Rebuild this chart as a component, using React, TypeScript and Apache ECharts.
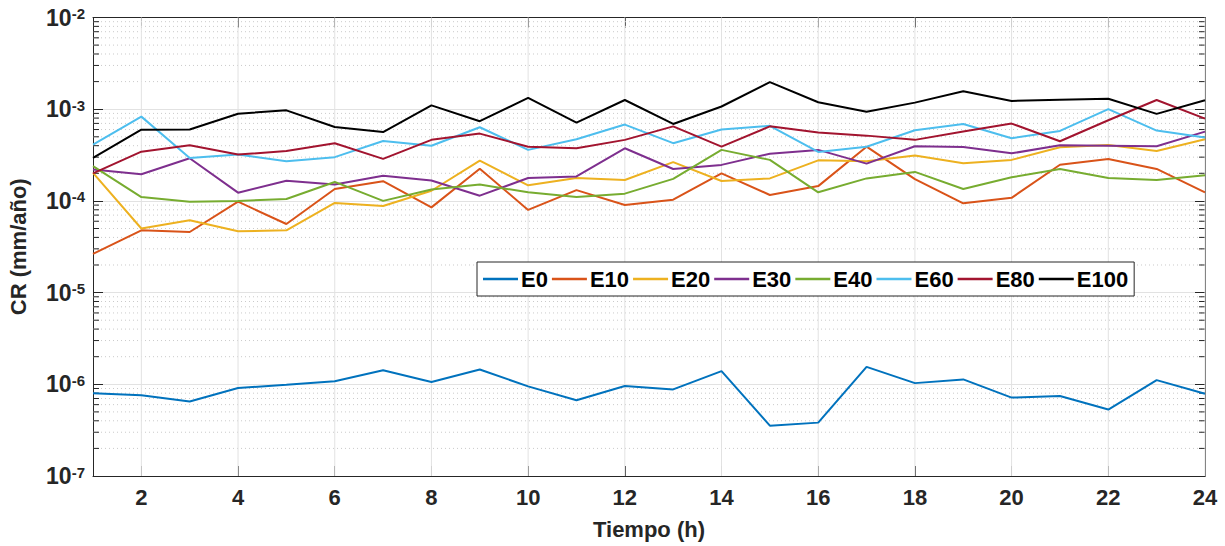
import React, { useEffect, useRef } from "react";
import * as echarts from "echarts";

const hours = [1, 2, 3, 4, 5, 6, 7, 8, 9, 10, 11, 12, 13, 14, 15, 16, 17, 18, 19, 20, 21, 22, 23, 24];
const xTickValues = [2, 4, 6, 8, 10, 12, 14, 16, 18, 20, 22, 24];
const seriesNames = ["E0", "E10", "E20", "E30", "E40", "E60", "E80", "E100"];
const seriesColors = ["#0072BD", "#D95319", "#EDB120", "#7E2F8E", "#77AC30", "#4DBEEE", "#A2142F", "#000000"];

const E0 = [8.0e-7, 7.6e-7, 6.5e-7, 9.1e-7, 9.9e-7, 1.08e-6, 1.42e-6, 1.06e-6, 1.45e-6, 9.5e-7, 6.7e-7, 9.6e-7, 8.8e-7, 1.39e-6, 3.54e-7, 3.82e-7, 1.55e-6, 1.03e-6, 1.13e-6, 7.16e-7, 7.46e-7, 5.3e-7, 1.11e-6, 7.9e-7];
const E10 = [2.65e-5, 4.78e-5, 4.58e-5, 9.8e-5, 5.6e-5, 1.35e-4, 1.64e-4, 8.5e-5, 2.24e-4, 7.97e-5, 1.31e-4, 9.04e-5, 1.03e-4, 2.0e-4, 1.16e-4, 1.45e-4, 3.9e-4, 1.73e-4, 9.4e-5, 1.08e-4, 2.48e-4, 2.86e-4, 2.23e-4, 1.24e-4];
const E20 = [2.02e-4, 5.0e-5, 6.15e-5, 4.66e-5, 4.78e-5, 9.5e-5, 8.8e-5, 1.29e-4, 2.75e-4, 1.48e-4, 1.78e-4, 1.69e-4, 2.65e-4, 1.65e-4, 1.76e-4, 2.77e-4, 2.7e-4, 3.13e-4, 2.57e-4, 2.8e-4, 3.85e-4, 4.07e-4, 3.5e-4, 4.7e-4];
const E30 = [2.2e-4, 1.95e-4, 2.92e-4, 1.23e-4, 1.66e-4, 1.51e-4, 1.88e-4, 1.67e-4, 1.14e-4, 1.78e-4, 1.85e-4, 3.75e-4, 2.23e-4, 2.47e-4, 3.27e-4, 3.6e-4, 2.55e-4, 3.94e-4, 3.88e-4, 3.3e-4, 4.05e-4, 4.0e-4, 3.94e-4, 5.7e-4];
const E40 = [2.4e-4, 1.1e-4, 9.8e-5, 1.0e-4, 1.05e-4, 1.61e-4, 1.0e-4, 1.33e-4, 1.51e-4, 1.24e-4, 1.1e-4, 1.2e-4, 1.74e-4, 3.6e-4, 2.8e-4, 1.24e-4, 1.76e-4, 2.07e-4, 1.35e-4, 1.81e-4, 2.23e-4, 1.78e-4, 1.69e-4, 1.9e-4];
const E60 = [4.11e-4, 8.3e-4, 2.94e-4, 3.2e-4, 2.7e-4, 3.0e-4, 4.5e-4, 4.0e-4, 6.36e-4, 3.6e-4, 4.7e-4, 6.8e-4, 4.26e-4, 6.0e-4, 6.58e-4, 3.42e-4, 3.9e-4, 5.9e-4, 6.9e-4, 4.82e-4, 5.8e-4, 1.0e-3, 5.85e-4, 4.9e-4];
const E80 = [2.0e-4, 3.44e-4, 4.05e-4, 3.2e-4, 3.5e-4, 4.26e-4, 2.87e-4, 4.63e-4, 5.42e-4, 3.9e-4, 3.75e-4, 4.63e-4, 6.5e-4, 3.9e-4, 6.5e-4, 5.56e-4, 5.15e-4, 4.63e-4, 5.7e-4, 6.97e-4, 4.47e-4, 7.58e-4, 1.26e-3, 7.9e-4];
const E100 = [2.94e-4, 5.98e-4, 6.0e-4, 8.93e-4, 9.72e-4, 6.4e-4, 5.64e-4, 1.1e-3, 7.4e-4, 1.33e-3, 7.15e-4, 1.26e-3, 6.9e-4, 1.07e-3, 1.97e-3, 1.19e-3, 9.4e-4, 1.18e-3, 1.57e-3, 1.23e-3, 1.27e-3, 1.3e-3, 8.9e-4, 1.25e-3];

const seriesValues = [E0, E10, E20, E30, E40, E60, E80, E100];

const X_MIN = 1;
const X_MAX = 24;
const Y_MIN = 1e-7;
const Y_MAX = 1e-2;
const decades = [1e-7, 1e-6, 1e-5, 1e-4, 1e-3];
const minorMultipliers = [2, 3, 4, 5, 6, 7, 8, 9];

const FONT = "'Liberation Sans', Arial, Helvetica, sans-serif";
const AXIS_COLOR = "#262626";

export default function App() {
  const ref = useRef<HTMLDivElement>(null);

  useEffect(() => {
    if (!ref.current) return;
    const chart = echarts.init(ref.current, undefined, { renderer: "svg" });

    const minorValues: number[] = [];
    decades.forEach((d) => minorMultipliers.forEach((m) => minorValues.push(d * m)));

    const lineSeries = seriesNames.map((name, i) => ({
      name,
      type: "line",
      data: hours.map((h, j) => [h, seriesValues[i][j]]),
      symbol: "none",
      showSymbol: false,
      lineStyle: { color: seriesColors[i], width: 2 },
      itemStyle: { color: seriesColors[i] },
      z: 5,
    }));

    const yLabelFormatter = (v: number) => {
      const e = Math.round(Math.log10(v));
      return `{b|10}{s|${e}}`;
    };

    const option: any = {
      animation: false,
      backgroundColor: "#ffffff",
      textStyle: { fontFamily: FONT },
      grid: { left: 93, right: 20, top: 17.5, bottom: 70, containLabel: false, outerBoundsMode: "none" },
      legend: {
        data: seriesNames,
        left: 477,
        top: 262,
        orient: "horizontal",
        icon: "rect",
        itemWidth: 35,
        itemHeight: 2.5,
        itemGap: 4,
        padding: [6, 6, 6, 6],
        backgroundColor: "#ffffff",
        borderColor: AXIS_COLOR,
        borderWidth: 1,
        textStyle: { fontFamily: FONT, fontSize: 22, fontWeight: "bold", color: "#000000", padding: [0, 0, 0, -2] },
        z: 20,
      },
      xAxis: [
        {
          type: "value",
          min: X_MIN,
          max: X_MAX,
          position: "bottom",
          name: "Tiempo (h)",
          nameLocation: "middle",
          nameGap: 42,
          nameTextStyle: { fontFamily: FONT, fontSize: 22, fontWeight: "bold", color: AXIS_COLOR },
          axisLine: { show: true, lineStyle: { color: AXIS_COLOR, width: 1 } },
          axisTick: { show: true, inside: true, length: 10, customValues: xTickValues, lineStyle: { color: AXIS_COLOR } },
          axisLabel: {
            show: true,
            customValues: xTickValues,
            margin: 10,
            fontFamily: FONT,
            fontSize: 22,
            fontWeight: "bold",
            color: AXIS_COLOR,
          },
          splitLine: { show: false },
        },
        {
          type: "value",
          min: X_MIN,
          max: X_MAX,
          position: "top",
          axisLine: { show: true, lineStyle: { color: AXIS_COLOR, width: 1 } },
          axisTick: { show: true, inside: true, length: 10, customValues: xTickValues, lineStyle: { color: AXIS_COLOR } },
          axisLabel: { show: false },
          splitLine: { show: false },
        },
      ],
      yAxis: [
        {
          type: "log",
          logBase: 10,
          min: Y_MIN,
          max: Y_MAX,
          position: "left",
          name: "CR (mm/año)",
          nameLocation: "middle",
          nameGap: 64,
          nameRotate: 90,
          nameTextStyle: { fontFamily: FONT, fontSize: 22, fontWeight: "bold", color: AXIS_COLOR },
          axisLine: { show: true, lineStyle: { color: AXIS_COLOR, width: 1 } },
          axisTick: { show: true, inside: true, length: 10, lineStyle: { color: AXIS_COLOR } },
          axisLabel: {
            show: true,
            margin: 8,
            formatter: yLabelFormatter,
            rich: {
              b: { fontFamily: FONT, fontSize: 23, fontWeight: "bold", color: AXIS_COLOR, verticalAlign: "bottom", lineHeight: 23 },
              s: { fontFamily: FONT, fontSize: 15, fontWeight: "bold", color: AXIS_COLOR, verticalAlign: "top", lineHeight: 15, padding: [0, 0, 17, 0] },
            },
          },
          splitLine: { show: true, lineStyle: { color: "#e2e2e2", width: 1 } },
        },
        {
          type: "log",
          logBase: 10,
          min: Y_MIN,
          max: Y_MAX,
          position: "right",
          axisLine: { show: true, lineStyle: { color: AXIS_COLOR, width: 1 } },
          axisTick: { show: true, inside: true, length: 10, lineStyle: { color: AXIS_COLOR } },
          axisLabel: { show: false },
          splitLine: { show: false },
        },
      ],
      series: [
        {
          type: "custom",
          name: "minorGrid",
          silent: true,
          xAxisIndex: 0,
          yAxisIndex: 0,
          z: 1,
          clip: false,
          data: minorValues.map((v) => [X_MIN, v]),
          renderItem: (params: any, api: any) => {
            const v = api.value(1);
            const p0 = api.coord([X_MIN, v]);
            const p1 = api.coord([X_MAX, v]);
            return {
              type: "group",
              children: [
                {
                  type: "line",
                  shape: { x1: p0[0], y1: p0[1], x2: p1[0], y2: p1[1] },
                  style: { stroke: "#cacaca", lineWidth: 1, lineDash: [1, 3] },
                },
                {
                  type: "line",
                  shape: { x1: p0[0], y1: p0[1], x2: p0[0] + 6, y2: p0[1] },
                  style: { stroke: AXIS_COLOR, lineWidth: 1 },
                },
                {
                  type: "line",
                  shape: { x1: p1[0] - 6, y1: p1[1], x2: p1[0], y2: p1[1] },
                  style: { stroke: AXIS_COLOR, lineWidth: 1 },
                },
              ],
            };
          },
        },
        {
          type: "custom",
          name: "xGrid",
          silent: true,
          xAxisIndex: 0,
          yAxisIndex: 0,
          z: 1,
          clip: false,
          data: xTickValues.map((x) => [x, Y_MIN]),
          renderItem: (params: any, api: any) => {
            const x = api.value(0);
            const p0 = api.coord([x, Y_MIN]);
            const p1 = api.coord([x, Y_MAX]);
            return {
              type: "line",
              shape: { x1: p0[0], y1: p0[1], x2: p1[0], y2: p1[1] },
              style: { stroke: "#e2e2e2", lineWidth: 1 },
            };
          },
        },
        ...lineSeries,
      ],
    };

    chart.setOption(option);
    return () => {
      chart.dispose();
    };
  }, []);

  return (
    <div
      ref={ref}
      style={{ position: "absolute", left: 0, top: 0, width: 1225, height: 546, background: "#ffffff" }}
    />
  );
}
